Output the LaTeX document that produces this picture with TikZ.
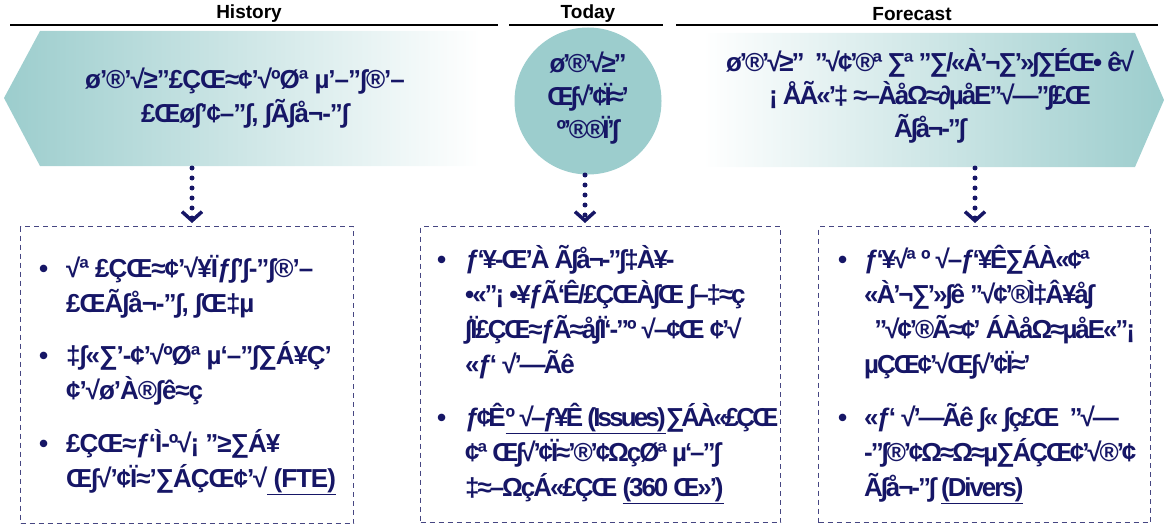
\documentclass[tikz,border=0pt]{standalone}
\usepackage{fontspec}
\setmainfont{Liberation Sans}
\newfontfamily\moj{Liberation Sans}[LetterSpace=-4]
\newfontfamily\hdrfont{Liberation Sans}
\usetikzlibrary{arrows.meta}
\definecolor{navy}{RGB}{22,22,102}
\definecolor{tealf}{RGB}{156,205,205}
\definecolor{boxline}{RGB}{70,70,130}
\begin{document}
\begin{tikzpicture}[x=1pt,y=-1pt,
  hdr/.style={font=\hdrfont\bfseries\fontsize{19}{21}\selectfont, text=black, inner sep=0pt},
  hline/.style={line width=1.2pt, black},
  mtext/.style={font=\moj\bfseries\fontsize{26}{34}\selectfont, text=navy, align=center, inner sep=0pt},
  btext/.style={font=\moj\bfseries\fontsize{26}{35}\selectfont, text=navy, align=left, inner sep=0pt, anchor=north west},
  tight/.style={font=\moj\bfseries\fontsize{26}{35}\selectfont\addfontfeature{LetterSpace=-8}},
  dashbox/.style={draw=boxline, line width=1.1pt, dash pattern=on 5pt off 4pt, inner sep=0pt, anchor=north west},
  dotconn/.style={navy, line width=5pt, line cap=round, dash pattern=on 0pt off 10pt, shorten >=3pt,
     -{Straight Barb[length=9pt,width=20pt,line width=3.5pt,line cap=butt]}},
]
\useasboundingbox (0,0) rectangle (1164,524);
% headers
\node[hdr] (hHist) at (249,14) {History};
\node[hdr] (hToday) at (588,14) {Today};
\node[hdr] (hFore) at (912,14) {Forecast};
\draw[hline] (10,25) -- (498,25);
\draw[hline] (509,25) -- (663,25);
\draw[hline] (676,25) -- (1158,25);
% left arrow
\shade[left color=tealf, right color=white] (4,98) -- (40,31) -- (480,31) -- (480,166) -- (40,166) -- cycle;
\node[mtext] (histA) at (245,98) {ø’®’√≥”£ÇŒ≈¢’√ºØª µ’–”∫®’–\\£Œø∫’¢–”∫, ∫Ã∫å¬-”∫};
% circle
\node[circle, fill=tealf, minimum size=147pt, inner sep=0pt] (todayC) at (588,101) {};
\node[mtext, font=\moj\bfseries\fontsize{26}{33}\selectfont\addfontfeature{LetterSpace=-9}] (todayT) at (588,98) {ø’®’√≥”\\Œ∫√’¢Ï≈’\\º’®®Ï’∫};
% right arrow
\shade[left color=white, right color=tealf] (703,33) -- (1135,33) -- (1164,100) -- (1135,167) -- (703,167) -- cycle;
\node[mtext, font=\moj\bfseries\fontsize{26}{33}\selectfont\addfontfeature{LetterSpace=-8}] (foreA) at (930,96) {ø’®’√≥” \ ”√¢’®ª ∑ª ”∑/«À’¬∑’»∫∑ÉŒ• ê√\\¡ ÅÃ«’‡ ≈–ÀåΩ≈∂µåE”√—”∫£Œ\\Ã∫å¬-”∫};
% boxes
\node[dashbox, minimum width=333pt, minimum height=297pt] (histBox) at (20,226) {};
\node[dashbox, minimum width=360pt, minimum height=296pt] (todayBox) at (420,226) {};
\node[dashbox, minimum width=332pt, minimum height=296pt] (foreBox) at (818,226) {};
% connectors
\coordinate (hd) at (192,168);
\coordinate (td) at (585,175);
\coordinate (fd) at (975,168);
\draw[dotconn] (hd) -- (hd |- histBox.north);
\draw[dotconn] (td) -- (td |- todayBox.north);
\draw[dotconn] (fd) -- (fd |- foreBox.north);
% left box bullets
\node[btext] (h1) at (39,255) {\makebox[27pt][l]{•}\rule{0pt}{20pt}√ª £ÇŒ≈¢’√¥Ïƒ∫’∫-”∫®’–\\\hspace*{27pt}£ŒÃ∫å¬-”∫, ∫Œ‡µ};
\node[btext] (h2) at (39,341) {\makebox[27pt][l]{•}\rule{0pt}{20pt}‡∫«∑’-¢’√ºØª µ‘–”∫∑Á¥Ç’\\\hspace*{27pt}¢’√ø’À®∫ê≈ç};
\node[btext] (h3) at (39,429) {\makebox[27pt][l]{•}\rule{0pt}{20pt}£ÇŒ≈ƒ‘Ì-º√¡ ”≥∑Á¥\\\hspace*{27pt}Œ∫√’¢Ï≈’∑ÁÇŒ¢’√\underline{ (FTE)}};
% middle box bullets
\node[btext, tight] (t1) at (437,245) {\makebox[28pt][l]{•}\rule{0pt}{20pt}ƒ‘¥-Œ’À Ã∫å¬-”∫‡À¥-\\\hspace*{28pt}•«”¡ •¥ƒÃ‘Ê/£ÇŒÀ∫Œ ∫–‡≈ç\\\hspace*{28pt}∫Ï£ÇŒ≈ƒÃ≈å∫Ï‘-”º √–¢Œ ¢’√\\\hspace*{28pt}«ƒ‘ √’—Ãê};
\node[btext, tight] (t2) at (437,403) {\makebox[28pt][l]{•}\rule{0pt}{20pt}{\addfontfeature{LetterSpace=-11}ƒ¢Ê\underline{º √–ƒ¥Ê (Issues)}∑ÁÀ«£ÇŒ}\\\hspace*{28pt}¢ª Œ∫√’¢Ï≈’®’¢ΩçØª µ‘–”∫\\\hspace*{28pt}‡≈–ΩçÁ«£ÇŒ \underline{(360 Œ»’)}};
% right box bullets
\node[btext, tight] (f1) at (838,245) {\makebox[26pt][l]{•}\rule{0pt}{20pt}ƒ‘¥√ª º √–ƒ‘¥Ê∑ÁÀ«¢ª\\\hspace*{26pt}«À’¬∑’»∫ê ”√¢’®Ì‡Â¥å∫\\\hspace*{26pt}\ \ ”√¢’®Ã≈¢’ ÁÀåΩ≈µåE«”¡\\\hspace*{26pt}µÇŒ¢’√Œ∫√’¢Ï≈’};
\node[btext, tight] (f2) at (838,403) {\makebox[26pt][l]{•}\rule{0pt}{20pt}«ƒ‘ √’—Ãê ∫« ∫ç£Œ \ ”√—\\\hspace*{26pt}-”∫®’¢Ω≈Ω≈µ∑ÁÇŒ¢’√®’¢\\\hspace*{26pt}Ã∫å¬-”∫ \underline{(Divers)}};
\end{tikzpicture}
\end{document}
